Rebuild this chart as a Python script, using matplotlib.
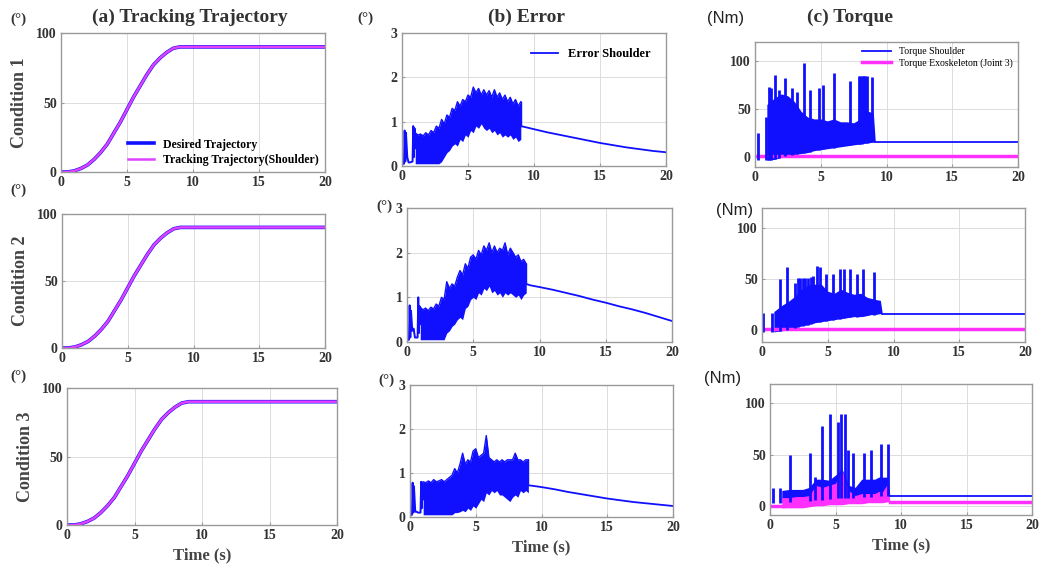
import numpy as np
import matplotlib
matplotlib.use("Agg")
import matplotlib.pyplot as plt

SERIF = "Liberation Serif"
SANS = "Liberation Sans"
BLUE = "#1010ff"
MAGENTA = "#ff30ff"

# ---- (a) tracking trajectory (same for the three conditions) ----
traj_t = [0, 0.5, 1.0, 1.5, 2.0, 2.5, 3.0, 3.5, 4.0, 4.5, 5.0, 5.5, 6.0, 6.5,
          7.0, 7.5, 8.0, 8.5, 9.0, 20]
traj_deg = [0, 0, 0.8, 2.5, 5, 9, 14, 20, 28, 36, 45, 54, 62, 70,
            77, 82, 86, 89, 90, 90]

# ---- (b) error: early spikes, noisy band (lower/upper), smooth tail ----
err_early_t = [0, 0.15, 0.2, 0.25, 0.3, 0.4, 0.5, 0.6, 0.8, 0.85, 0.9, 0.95, 1.0]
err1_early = [0.05, 0.05, 0.8, 0.1, 0.75, 0.2, 0.08, 0.08, 0.1, 0.9, 0.2, 0.85, 0.4]
err2_early = [0.05, 0.05, 0.82, 0.1, 0.7, 0.25, 0.3, 0.1, 0.1, 1.0, 0.2, 0.8, 0.4]
err3_early = [0.05, 0.05, 0.78, 0.1, 0.7, 0.12, 0.12, 0.1, 0.1, 0.8, 0.2, 0.78, 0.4]

band_t = [1.0, 1.2, 1.4, 1.6, 1.8, 2.0, 2.2, 2.4, 2.6, 2.8, 3.0, 3.2, 3.4, 3.6,
          3.8, 4.0, 4.2, 4.4, 4.6, 4.8, 5.0, 5.2, 5.4, 5.6, 5.8, 6.0, 6.2, 6.4,
          6.6, 6.8, 7.0, 7.2, 7.4, 7.6, 7.8, 8.0, 8.2, 8.4, 8.6, 8.8, 9.0]
err1_up = [0.75, 0.7, 0.72, 0.68, 0.75, 0.7, 0.8, 0.75, 0.9, 0.85, 1.05, 0.95,
           1.15, 1.1, 1.3, 1.25, 1.45, 1.35, 1.5, 1.45, 1.6, 1.55, 1.78, 1.65,
           1.75, 1.6, 1.72, 1.6, 1.7, 1.55, 1.72, 1.55, 1.65, 1.5, 1.6, 1.45,
           1.55, 1.4, 1.5, 1.35, 1.45]
err1_low = [0.05, 0.05, 0.05, 0.05, 0.05, 0.05, 0.05, 0.05, 0.05, 0.05, 0.1, 0.2,
            0.3, 0.35, 0.45, 0.5, 0.45, 0.6, 0.55, 0.7, 0.65, 0.8, 0.75, 0.9,
            0.85, 0.95, 0.85, 0.8, 0.85, 0.75, 0.8, 0.7, 0.75, 0.65, 0.7, 0.65,
            0.7, 0.6, 0.65, 0.55, 0.6]
err2_up = [0.78, 0.72, 0.76, 0.7, 0.78, 0.74, 0.85, 0.8, 1.0, 0.95, 1.35, 1.2,
           1.3, 1.25, 1.45, 1.6, 1.5, 1.75, 1.65, 1.9, 1.95, 1.85, 2.05, 1.95,
           2.15, 2.05, 2.22, 2.0, 2.15, 2.0, 2.1, 2.05, 2.22, 1.95, 2.1, 2.0,
           1.9, 1.95, 1.8, 1.85, 1.75]
err2_low = [0.05, 0.05, 0.05, 0.05, 0.05, 0.05, 0.05, 0.05, 0.05, 0.05, 0.2, 0.25,
            0.35, 0.4, 0.5, 0.55, 0.5, 0.75, 0.8, 0.95, 1.0, 0.95, 1.1, 1.05,
            1.2, 1.15, 1.25, 1.1, 1.15, 1.05, 1.1, 1.0, 1.1, 1.05, 1.1, 1.05,
            1.0, 1.05, 0.95, 1.05, 1.1]
err3_up = [0.8, 0.78, 0.82, 0.78, 0.85, 0.8, 0.82, 0.85, 0.8, 0.85, 0.9, 0.95,
           1.1, 1.0, 1.2, 1.45, 1.2, 1.3, 1.25, 1.5, 1.55, 1.35, 1.4, 1.45,
           1.85, 1.35, 1.3, 1.25, 1.3, 1.25, 1.3, 1.25, 1.3, 1.3, 1.3, 1.45,
           1.3, 1.3, 1.25, 1.3, 1.3]
err3_low = [0.05, 0.05, 0.05, 0.05, 0.05, 0.05, 0.05, 0.05, 0.05, 0.05, 0.05, 0.05,
            0.1, 0.1, 0.12, 0.15, 0.12, 0.2, 0.15, 0.25, 0.2, 0.3, 0.4, 0.35,
            0.55, 0.5, 0.6, 0.55, 0.6, 0.5, 0.5, 0.45, 0.4, 0.35, 0.45, 0.5,
            0.45, 0.6, 0.55, 0.6, 0.55]

tail_t = [9.0, 9.3, 10, 11, 12, 13, 14, 15, 16, 17, 18, 19, 20]
err1_tail = [0.9, 0.88, 0.83, 0.76, 0.7, 0.64, 0.58, 0.52, 0.47, 0.42, 0.38, 0.34, 0.31]
err2_tail = [1.3, 1.27, 1.23, 1.17, 1.1, 1.03, 0.95, 0.88, 0.8, 0.73, 0.65, 0.56, 0.47]
err3_tail = [0.72, 0.71, 0.68, 0.63, 0.57, 0.52, 0.47, 0.42, 0.38, 0.34, 0.31, 0.28, 0.25]

# ---- (c) torque: dense band, spikes, flat values after 9 s ----
tq_band_t = [0.9, 1.5, 2.0, 2.5, 3.0, 3.5, 4.0, 4.5, 5.0, 5.5, 6.0, 6.5, 7.0, 7.5,
             8.0, 8.3, 8.6, 9.0, 9.15]
tq1_up = [55, 62, 66, 64, 58, 48, 42, 40, 40, 38, 40, 37, 37, 36, 40, 50, 48, 46, 16]
tq1_low = [-3, -2, 0, 2, 3, 4, 5, 7, 8, 9, 10, 11, 12, 13, 14, 15, 15, 16, 16]
tq2_up = [18, 24, 28, 33, 40, 44, 45, 45, 38, 36, 40, 37, 35, 36, 32, 31, 30, 29, 16]
tq2_low = [-2, -1, 0, 2, 4, 5, 7, 8, 9, 10, 11, 12, 13, 13, 14, 15, 15, 16, 16]
tq3_up = [15, 16, 16, 16, 18, 26, 26, 25, 30, 36, 20, 18, 26, 26, 26, 28, 28, 28, 10]
tq3_low = [3, 4, 4, 5, 5, 6, 6, 7, 7, 8, 8, 8, 9, 9, 9, 10, 10, 10, 10]
tq3_exo_up = [8, 8, 9, 9, 10, 20, 18, 20, 22, 35, 15, 10, 12, 12, 12, 14, 14, 22, 4]
tq3_exo_low = [-2, -2, -2, -2, -1, 0, 0, 1, 1, 1, 2, 2, 2, 3, 3, 3, 3, 4, 4]

tq1_spike_t = [0.23, 0.8, 1.1, 1.2, 1.5, 1.8, 2.3, 2.8, 3.2, 3.7, 4.2, 4.85, 5.2,
               6.0, 7.25, 7.9, 8.0, 8.1, 8.2, 8.3, 8.4, 8.5, 8.9]
tq1_spike = [25, 42, 73, 72, 86, 70, 83, 72, 68, 98, 70, 72, 75, 88, 79, 85, 85,
             85, 85, 85, 85, 85, 84]
tq2_spike_t = [0.1, 0.75, 1.4, 1.9, 2.5, 2.7, 2.9, 3.1, 3.3, 3.5, 3.7, 3.9, 4.2,
               4.4, 4.9, 5.4, 5.9, 6.2, 6.7, 7.2, 7.7, 8.5]
tq2_spike = [17, 17, 50, 62, 46, 51, 51, 51, 51, 51, 52, 53, 63, 62, 55, 55, 60,
             60, 60, 55, 60, 57]
tq3_spike_t = [0.2, 0.75, 1.5, 3.05, 3.4, 4.0, 4.6, 5.2, 5.4, 5.7, 5.95, 6.35,
               7.2, 7.7, 8.5, 9.0]
tq3_spike = [17, 17, 50, 52, 28, 78, 90, 82, 90, 90, 55, 52, 52, 55, 60, 60]

tq_flat_t = [9.15, 20]
tq1_flat = [16, 16]
tq2_flat = [16, 16]
tq3_flat = [10, 10]
exo_t = [0, 20]
exo1 = [1, 1]
exo2 = [0.5, 0.5]
exo3_flat = [4, 4]

W, H = 1042, 573
# axes boxes in pixels: (left, top, right, bottom)
boxes = [
    [(61, 33, 325, 172), (402, 33, 666, 166), (755, 42, 1018, 167)],
    [(62, 214, 325, 348), (407, 208, 672, 342), (762, 208, 1025, 342)],
    [(67, 388, 337, 525), (410, 385, 673, 517), (770, 384, 1032, 515)],
]


def make_axes(fig, box):
    l, t, r, b = box
    ax = fig.add_axes([l / W, 1 - b / H, (r - l) / W, (b - t) / H])
    ax.set_xlim(0, 20)
    ax.set_xticks([0, 5, 10, 15, 20])
    ax.grid(True, color="#dcdcdc", lw=0.7)
    ax.set_axisbelow(True)
    for s in ax.spines.values():
        s.set_color("#9a9a9a")
        s.set_linewidth(1.0)
    ax.tick_params(direction="in", length=2, color="#9a9a9a", pad=3)
    return ax


def fix_labels(ax):
    for lab in ax.get_xticklabels() + ax.get_yticklabels():
        lab.set_fontfamily(SERIF)
        lab.set_fontweight("bold")
        lab.set_fontsize(10)
        lab.set_color("#333333")


fig = plt.figure(figsize=(W / 100, H / 100), dpi=100)

err_sets = [(err1_early, err1_low, err1_up, err1_tail),
            (err2_early, err2_low, err2_up, err2_tail),
            (err3_early, err3_low, err3_up, err3_tail)]
tq_sets = [(tq1_low, tq1_up, tq1_spike_t, tq1_spike, tq1_flat, exo1),
           (tq2_low, tq2_up, tq2_spike_t, tq2_spike, tq2_flat, exo2),
           (tq3_low, tq3_up, tq3_spike_t, tq3_spike, tq3_flat, exo3_flat)]
tq_ylims = [(-10, 120), (-12, 120), (-9, 119)]

for row in range(3):
    # trajectory
    ax = make_axes(fig, boxes[row][0])
    ax.set_ylim(0, 100)
    ax.set_yticks([0, 50, 100])
    fix_labels(ax)
    ax.plot(traj_t, traj_deg, color=BLUE, lw=2.6, label="Desired Trajectory")
    ax.plot(traj_t, traj_deg, color="#e040ff", lw=1.8,
            label="Tracking Trajectory(Shoulder)")
    ax.set_ylabel("Condition %d" % (row + 1), fontfamily=SERIF, fontweight="bold",
                  fontsize=13, color="#444444", labelpad=6)
    if row == 0:
        ax.legend(loc="lower right", frameon=False, handlelength=2.2,
                  borderaxespad=0.1, labelspacing=0.3,
                  prop={"family": SERIF, "weight": "bold", "size": 8.5})
    if row == 2:
        ax.set_xlabel("Time (s)", fontfamily=SERIF, fontweight="bold",
                      fontsize=12, color="#444444")

    # error
    early, low, up, tail = err_sets[row]
    ax = make_axes(fig, boxes[row][1])
    ax.set_ylim(0, 3)
    ax.set_yticks([0, 1, 2, 3])
    fix_labels(ax)
    ax.plot(err_early_t, early, color=BLUE, lw=1.4)
    ax.fill_between(band_t, low, up, color=BLUE, lw=0)
    ax.plot(band_t, up, color=BLUE, lw=1.0)
    ax.plot([band_t[-1], tail_t[0]], [up[-1], tail[0]], color=BLUE, lw=1.0)
    ax.plot(tail_t, tail, color=BLUE, lw=1.3, label="Error Shoulder")
    if row == 0:
        ax.legend(loc="upper right", frameon=False, handlelength=2.2,
                  borderaxespad=0.8,
                  prop={"family": SERIF, "weight": "bold", "size": 9})
    if row == 2:
        ax.set_xlabel("Time (s)", fontfamily=SERIF, fontweight="bold",
                      fontsize=12, color="#444444")

    # torque
    low, up, sp_t, sp_h, flat, exo = tq_sets[row]
    ax = make_axes(fig, boxes[row][2])
    ax.set_ylim(*tq_ylims[row])
    ax.set_yticks([0, 50, 100])
    fix_labels(ax)
    ax.plot(exo_t if row < 2 else tq_flat_t, exo, color=MAGENTA, lw=2.5,
            label="Torque Exoskeleton (Joint 3)")
    ax.fill_between(tq_band_t, low, up, color=BLUE, lw=0)
    ax.vlines(sp_t, np.interp(sp_t, tq_band_t, low), sp_h, color=BLUE, lw=2.0)
    ax.plot(tq_flat_t, flat, color=BLUE, lw=1.3, label="Torque Shoulder")
    if row == 2:
        ax.fill_between(tq_band_t, tq3_exo_low, tq3_exo_up, color=MAGENTA, lw=0)
        ax.plot([0, 1], [0, 0], color=MAGENTA, lw=2.5)
        ax.set_xlabel("Time (s)", fontfamily=SERIF, fontweight="bold",
                      fontsize=12, color="#444444")
    if row == 0:
        h, l = ax.get_legend_handles_labels()
        ax.legend(h[::-1], l[::-1], loc="upper right", frameon=False,
                  handlelength=3.0, borderaxespad=0.15, labelspacing=0.2,
                  prop={"family": SERIF, "size": 7})

# titles
fig.text(190 / W, 1 - 17 / H, "(a) Tracking Trajectory", ha="center", va="center",
         fontfamily=SERIF, fontweight="bold", fontsize=14, color="#333333")
fig.text(527 / W, 1 - 17 / H, "(b) Error", ha="center", va="center",
         fontfamily=SERIF, fontweight="bold", fontsize=14, color="#333333")
fig.text(850 / W, 1 - 17 / H, "(c) Torque", ha="center", va="center",
         fontfamily=SERIF, fontweight="bold", fontsize=14, color="#333333")

# unit labels
for x, y in [(18, 19), (18, 190), (18, 376), (365, 18), (384, 206), (386, 380)]:
    fig.text(x / W, 1 - y / H, "(°)", ha="center", va="center",
             fontfamily=SERIF, fontweight="bold", fontsize=11, color="#333333")
for x, y in [(726, 19), (735, 210), (723, 378)]:
    fig.text(x / W, 1 - y / H, "(Nm)", ha="center", va="center",
             fontfamily=SANS, fontsize=12, color="#222222")

fig.savefig("out.png", dpi=100)
